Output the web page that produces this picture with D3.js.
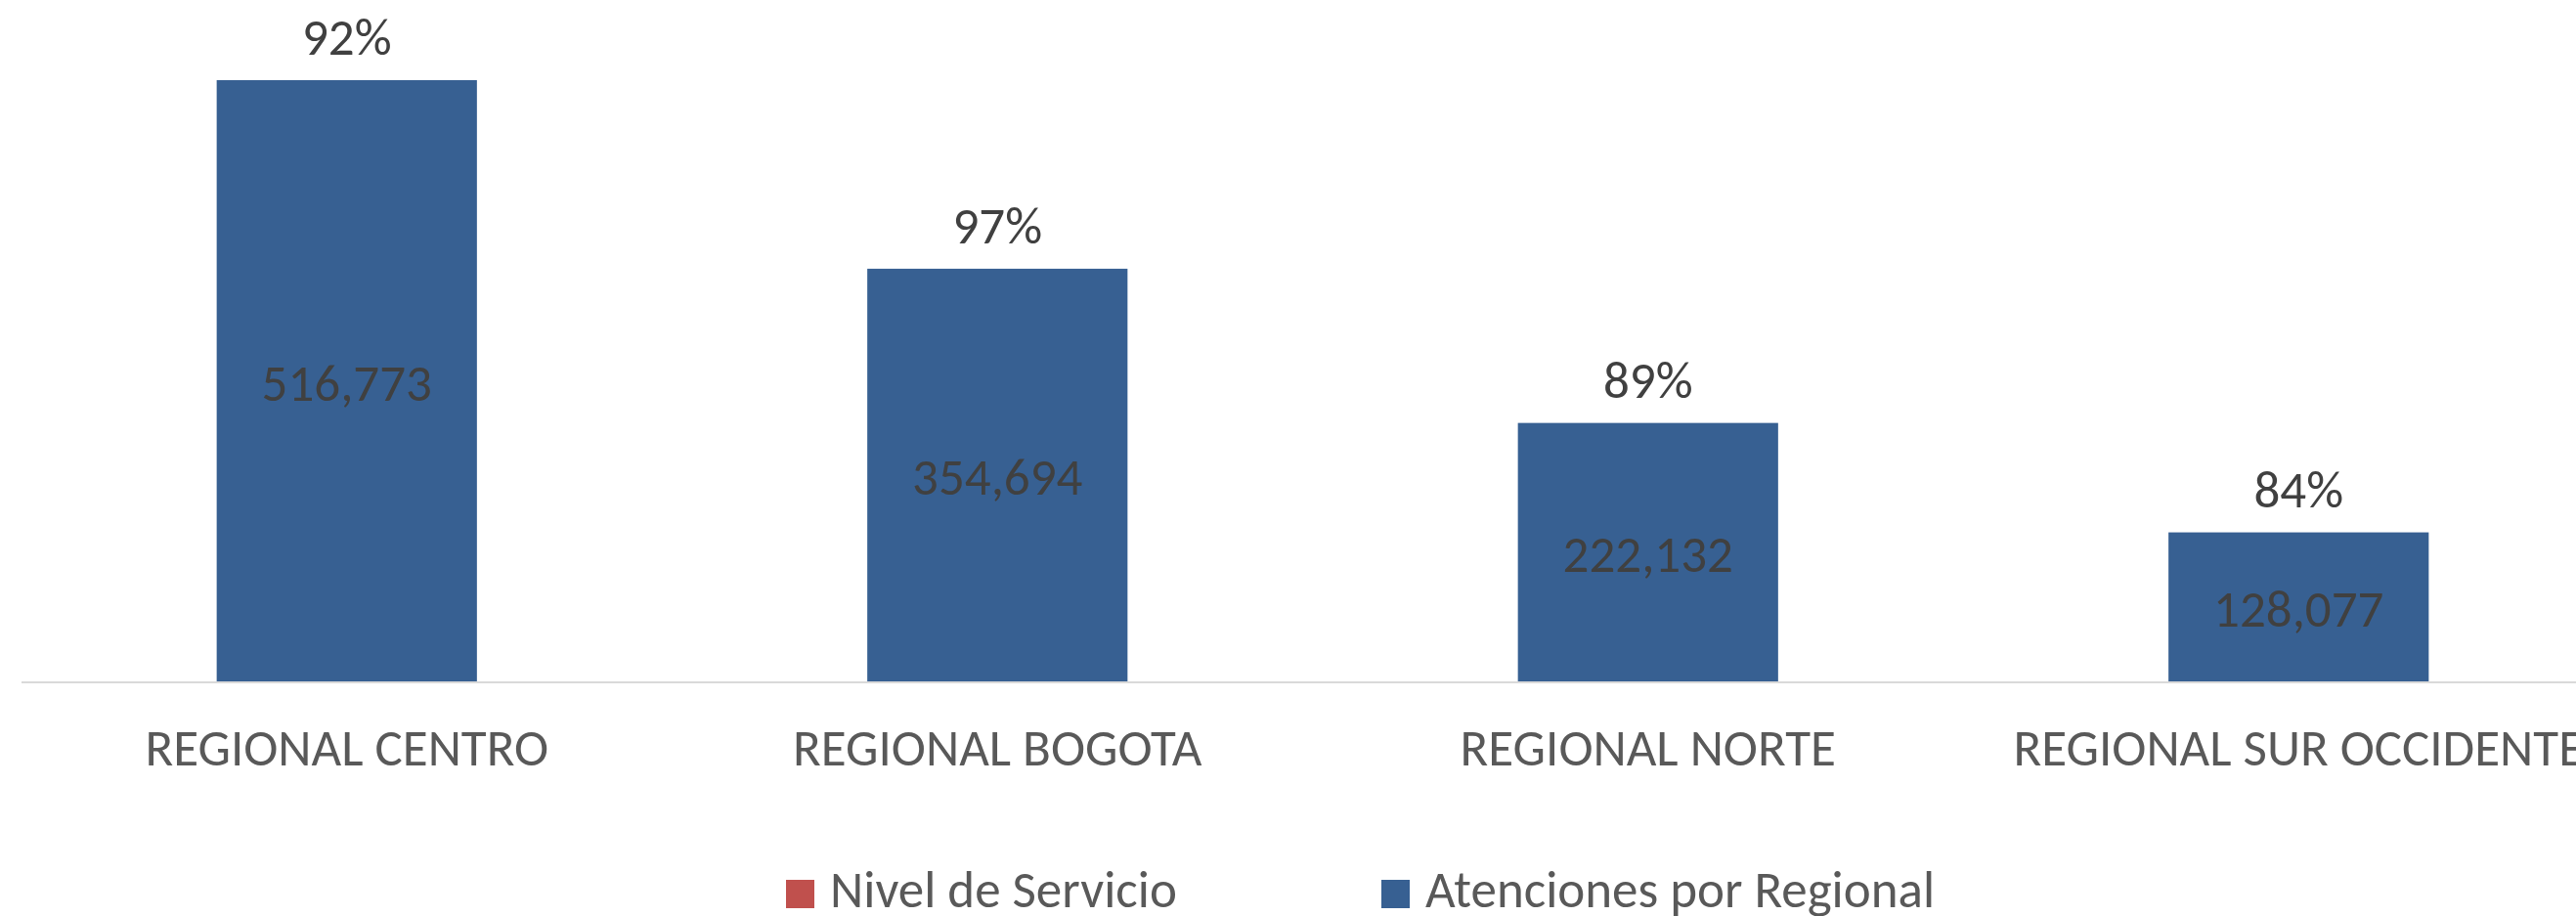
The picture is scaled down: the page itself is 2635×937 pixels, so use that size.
<!DOCTYPE html>
<html>
<head>
<meta charset="utf-8">
<script src="https://cdn.jsdelivr.net/npm/d3@7"></script>
<style>
  html, body { margin: 0; padding: 0; background: #ffffff; overflow: hidden; }
  svg { display: block; font-family: Carlito, "Open Sans", "Noto Sans", sans-serif; }
</style>
</head>
<body>
<svg id="chart" width="2635" height="937"></svg>
<script>
const categories = ["REGIONAL CENTRO", "REGIONAL BOGOTA", "REGIONAL NORTE", "REGIONAL SUR OCCIDENTE"];
const atenciones = [516773, 354694, 222132, 128077];
const nivelServicio = [0.92, 0.97, 0.89, 0.84];
const seriesNames = ["Nivel de Servicio", "Atenciones por Regional"];
const seriesColors = ["#C0504D", "#376092"];

const svg = d3.select("#chart");
const W = 2635, H = 937;
const baseY = 697;
const FS = 53;

const x = d3.scaleBand()
  .domain(categories)
  .range([22, 22 + 4 * 665.5])
  .paddingInner(0.6)
  .paddingOuter(0.3);

const y = d3.scaleLinear()
  .domain([0, 600000])
  .range([baseY, baseY - 600000 * 615 / 516773]);

const rows = categories.map((c, i) => ({ cat: c, atenciones: atenciones[i], nivel: nivelServicio[i] }));
const stack = d3.stack().keys(["atenciones", "nivel"]);
const stacked = stack(rows);

// axis baseline
svg.append("line")
  .attr("x1", x.range()[0]).attr("x2", W)
  .attr("y1", baseY + 1).attr("y2", baseY + 1)
  .attr("stroke", "#d9d9d9").attr("stroke-width", 2);

// bars
const colorFor = { atenciones: seriesColors[1], nivel: seriesColors[0] };
stacked.forEach(layer => {
  svg.append("g").selectAll("rect")
    .data(layer)
    .join("rect")
    .attr("x", d => x(d.data.cat))
    .attr("width", x.bandwidth())
    .attr("y", d => y(d[1]))
    .attr("height", d => Math.max(0, y(d[0]) - y(d[1])))
    .attr("fill", colorFor[layer.key]);
});

const fmtNum = d3.format(",");
const fmtPct = d3.format(".0%");

// value labels inside bars
svg.append("g").selectAll("text")
  .data(rows)
  .join("text")
  .attr("x", d => x(d.cat) + x.bandwidth() / 2)
  .attr("y", d => (y(0) + y(d.atenciones)) / 2 + 20)
  .attr("text-anchor", "middle")
  .attr("font-size", FS)
  .attr("fill", "#404040")
  .text(d => fmtNum(d.atenciones));

// percentage labels above bars
svg.append("g").selectAll("text")
  .data(rows)
  .join("text")
  .attr("x", d => x(d.cat) + x.bandwidth() / 2)
  .attr("y", d => y(d.atenciones + d.nivel) - 26)
  .attr("text-anchor", "middle")
  .attr("font-size", FS)
  .attr("fill", "#404040")
  .text(d => fmtPct(d.nivel));

// category labels
svg.append("g").selectAll("text")
  .data(categories)
  .join("text")
  .attr("x", d => x(d) + x.bandwidth() / 2)
  .attr("y", 783)
  .attr("text-anchor", "middle")
  .attr("font-size", FS)
  .attr("fill", "#595959")
  .text(d => d);

// legend
const legendX = [804, 1413];
const lg = svg.append("g");
seriesNames.forEach((name, i) => {
  lg.append("rect")
    .attr("x", legendX[i]).attr("y", 900)
    .attr("width", 29).attr("height", 29)
    .attr("fill", seriesColors[i]);
  lg.append("text")
    .attr("x", legendX[i] + 45).attr("y", 928)
    .attr("font-size", FS)
    .attr("fill", "#595959")
    .text(name);
});
</script>
</body>
</html>
